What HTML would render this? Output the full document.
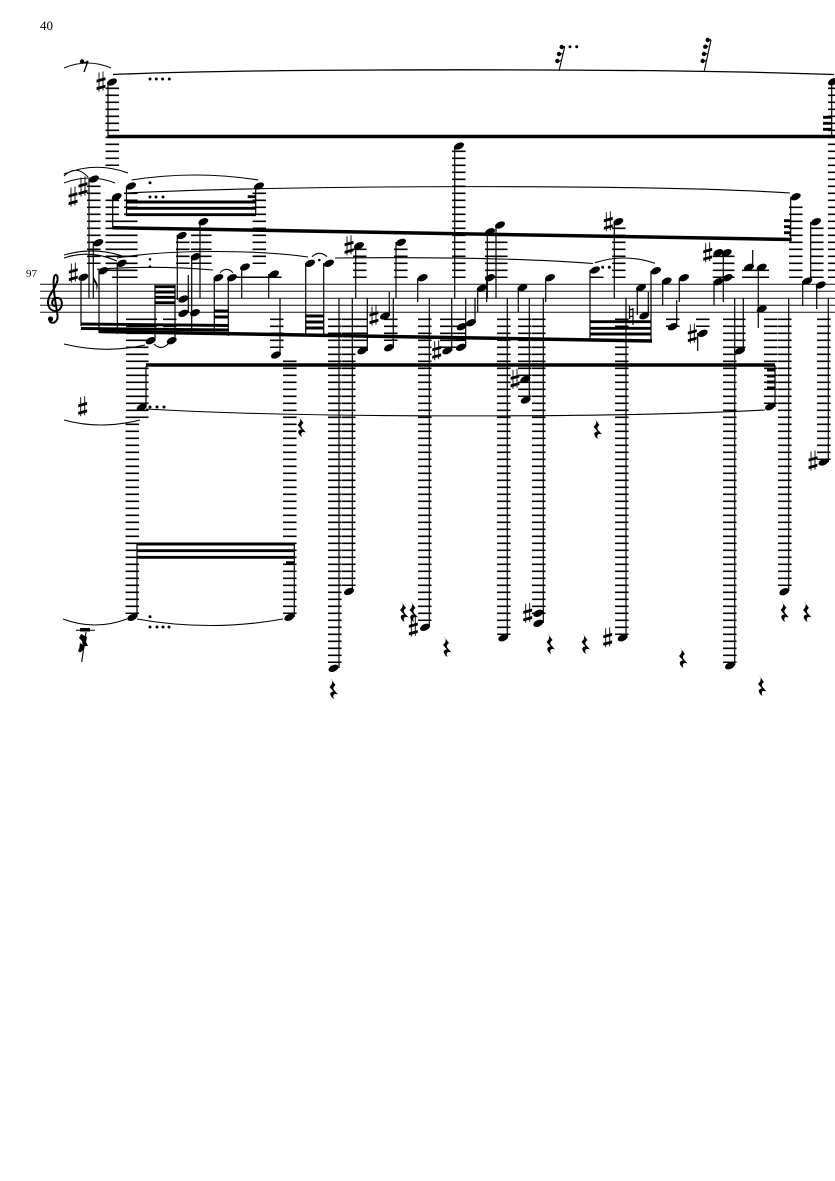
<!DOCTYPE html>
<html><head><meta charset="utf-8"><title>Score page 40</title>
<style>
html,body{margin:0;padding:0;background:#fff}
svg{display:block}
.t{font-family:"Liberation Serif",serif;fill:#000}
.st{stroke:#000;stroke-width:1.2;fill:none}
.ld{stroke:#000;stroke-width:13.5;stroke-dasharray:1.6 5.4;fill:none}
.sl{stroke:#000;stroke-width:1.1;fill:none}
.b{stroke:#000;fill:none}
.s{fill:#000;stroke:#000;stroke-width:.9}
.n ellipse{rx:5.3px;ry:3.2px;transform-box:fill-box;transform-origin:center;transform:rotate(-25deg)}
</style></head><body>
<svg width="835" height="1181" viewBox="0 0 835 1181" xmlns="http://www.w3.org/2000/svg">
<text class="t" x="40" y="30" font-size="13">40</text>
<text class="t" x="26" y="277" font-size="11">97</text>

<path d="M40 284.300H835M40 291.300H835M40 298.300H835M40 305.300H835M40 312.300H835" stroke="#111" stroke-width="1" fill="none"/>
<path d="M55 306C51 306 51 299 56 298C62 297 63.500 304 60 309C56 313 48.500 311 48 303C47.500 295 56 289 57.500 280C58 276 56 273 54.500 276C52 282 55 300 57.500 315C58.500 322 52 325 49.500 321" fill="none" stroke="#000" stroke-width="2"/>
<circle cx="50.500" cy="319" r="2.600"/>

<path class="ld" d="M112.300 87.500V166M112.300 199.500V271M118.800 220.500V278M130.800 192.500V278
M93.800 185.500V264M259.300 192.500V264M182.800 241.500V264M197.800 227.500V264M204.800 227.500V264
M239.800 276.500V278M252.800 276.500V278M265.800 276.500V278M274.800 276.500V278
M132.800 318.500V418M141.800 318.500V418M150.300 318.500V334M169.800 318.500V334M132.300 416.500V614
M276.800 318.500V348M289.800 360.500V614M334.800 318.500V663M348.800 318.500V586M360.300 318.500V348
M359.800 248.500V278M400.800 248.500V278M390.800 318.500V341M424.800 318.500V621
M446.800 318.500V348M458.800 318.500V348M458.800 150.500V278M491.800 234.500V278M500.800 234.500V278
M503.800 318.500V635M524.800 318.500V397M538.800 318.500V614M618.800 227.500V278M621.800 318.500V635
M672.800 318.500V327M702.800 318.500V327M719.500 255.500V278M727.800 255.500V278
M729.800 318.500V663M738.800 318.500V348M748.800 269.500V278M762.300 269.500V278M770.800 318.500V404
M784.800 318.500V586M795.800 206.500V278M816.800 227.500V278M823.800 318.500V460M834.800 87.500V278M596.800 276.500V278"/>

<path class="st" d="M108 82V137M89 179V298M93.300 243V298M112.700 197V228M126.500 186V215M255.700 186V215
M81 277V326M99 270V333M117.300 263V334M155 285V341M175 285V341M177.300 235V300M188.300 275V313M191.700 257V333M200 222V298
M214.300 278V335M228.300 278V336M241.700 267V298M268.700 274V298M280 298V355M305.700 263V336M323.700 263V336
M146 366V407M137 544V617M294.300 544V617M790.700 197V240M339 298V668M352.300 298V591M355.700 246V298M367.300 298V351
M389.300 292V316M393.300 298V348M396 242V298M417.700 278V302M429.300 298V627M451.700 298V351M454.700 146V298M465.700 298V347
M475 298V322M477.700 288V312M486.700 278V302M487.300 232V298M496 225V298M507.300 298V637M518.300 288V312M529.300 298V400M543.300 298V623M545.700 278V302
M590 270V340M614.300 222V298M626 298V637M637.300 288V315M648.300 292V315M651 271V341M662.700 281V305M676.700 300V327M679.300 278V302M697.700 333V351
M714 281V305M723.300 252V302M734.700 298V665M743.300 298V351M752.700 250V267M758.300 267V328M775 365V407M788.700 298V591M802.700 281V306M810.700 222V281M816.700 285V309M828.300 298V462M831.700 82V137"/>
<path d="M93.300 275c1 6 7 8 3 16c1-7-2-9-3-10z"/>

<g class="b">
<path stroke-width="3.500" d="M108 136.500H835M146 365H775M112.500 227.700L791.700 239.500M99 331.500L652 341"/>
<path stroke-width="2.900" d="M81 324L228 325.500M81 328.500L228 330M126 202H256M126 208.300H256M126 214.700H256M247.700 196.700H255.700M137 544H294.500M137 550.700H294.500M137 557.300H294.500M286 562.700H294.500
M155 286.700H175M155 292H175M155 297.300H175M155 302.700H175M214.300 311H228.300M214.300 317H228.300M305.700 316H323.700M305.700 322H323.700M305.700 328H323.700
M590 321.700H651M590 328.300H651M590 334H651M784 220.700H791M784 226.700H791M784 232.700H791M767 370H775M767 376H775M767 382H775M767 388H775
M823 117.300H832M823 123.300H832M823 129.300H832"/>
</g>

<g class="n">
<ellipse cx="112" cy="82"/><ellipse cx="94" cy="179"/><ellipse cx="116.700" cy="196.700"/><ellipse cx="131" cy="186"/><ellipse cx="259" cy="186"/><ellipse cx="203.300" cy="221.700"/><ellipse cx="181.700" cy="235.500"/><ellipse cx="98.300" cy="242.700"/>
<ellipse cx="83.300" cy="277.300"/><ellipse cx="103.300" cy="270.700"/><ellipse cx="121.700" cy="263.300"/><ellipse cx="195.700" cy="256.700"/><ellipse cx="183.300" cy="299"/><ellipse cx="183.300" cy="313.300"/><ellipse cx="195" cy="312.700"/><ellipse cx="218.300" cy="277.700"/>
<ellipse cx="232" cy="277.700"/><ellipse cx="245" cy="267"/><ellipse cx="274" cy="274"/><ellipse cx="150.700" cy="340.700"/><ellipse cx="171.700" cy="340.700"/><ellipse cx="276" cy="355"/><ellipse cx="141.700" cy="407.300"/><ellipse cx="132.300" cy="617.300"/>
<ellipse cx="289.300" cy="617.300"/><ellipse cx="310" cy="263.300"/><ellipse cx="329" cy="263.300"/><ellipse cx="359" cy="245.700"/><ellipse cx="401" cy="242.300"/><ellipse cx="422.700" cy="277.700"/><ellipse cx="385" cy="316"/><ellipse cx="389" cy="347.700"/>
<ellipse cx="362.300" cy="350.700"/><ellipse cx="333.500" cy="668.300"/><ellipse cx="349" cy="591.500"/><ellipse cx="425" cy="627.300"/><ellipse cx="447.300" cy="350.700"/><ellipse cx="461" cy="347.300"/><ellipse cx="461.700" cy="326.700"/><ellipse cx="471" cy="322.700"/>
<ellipse cx="481.700" cy="288.300"/><ellipse cx="490" cy="277.700"/><ellipse cx="490" cy="231.700"/><ellipse cx="500" cy="225"/><ellipse cx="459" cy="146"/><ellipse cx="522.300" cy="287.700"/><ellipse cx="550" cy="277.700"/><ellipse cx="503.300" cy="637.700"/>
<ellipse cx="525.300" cy="379.300"/><ellipse cx="525.700" cy="400"/><ellipse cx="538.300" cy="613.300"/><ellipse cx="538.300" cy="623.300"/><ellipse cx="618.300" cy="221.700"/><ellipse cx="622.700" cy="637.700"/><ellipse cx="595" cy="270"/><ellipse cx="656" cy="270.700"/>
<ellipse cx="641" cy="287.700"/><ellipse cx="644.300" cy="315.700"/><ellipse cx="666.700" cy="281"/><ellipse cx="684" cy="277.700"/><ellipse cx="672.700" cy="326.700"/><ellipse cx="702.700" cy="333.300"/><ellipse cx="718.300" cy="252.700"/><ellipse cx="726.700" cy="252.700"/>
<ellipse cx="718.300" cy="281.700"/><ellipse cx="727.700" cy="277.700"/><ellipse cx="749" cy="267.300"/><ellipse cx="761.700" cy="267.300"/><ellipse cx="761.700" cy="309"/><ellipse cx="730" cy="665.700"/><ellipse cx="740" cy="350.700"/><ellipse cx="770" cy="406.700"/>
<ellipse cx="784.300" cy="591.700"/><ellipse cx="795.700" cy="196.700"/><ellipse cx="816" cy="221.700"/><ellipse cx="807.300" cy="281"/><ellipse cx="820.700" cy="285"/><ellipse cx="823.500" cy="462"/><ellipse cx="833" cy="81.700"/>
</g>

<g class="s">
<path d="M101 82m-2-9.500v19m4-20v19m-6-10.500l8-2.200v2l-8 2.200zm0 7.500l8-2.200v2l-8 2.200z"/>
<path d="M73 197m-2-9.500v19m4-20v19m-6-10.500l8-2.200v2l-8 2.200zm0 7.500l8-2.200v2l-8 2.200z"/>
<path d="M83 187m-2-9.500v19m4-20v19m-6-10.500l8-2.200v2l-8 2.200zm0 7.500l8-2.200v2l-8 2.200z"/>
<path d="M73.300 273m-2-9.500v19m4-20v19m-6-10.500l8-2.200v2l-8 2.200zm0 7.500l8-2.200v2l-8 2.200z"/>
<path d="M82.700 406.700m-2-9.500v19m4-20v19m-6-10.500l8-2.200v2l-8 2.200zm0 7.500l8-2.200v2l-8 2.200z"/>
<path d="M349 245.700m-2-9.500v19m4-20v19m-6-10.500l8-2.200v2l-8 2.200zm0 7.500l8-2.200v2l-8 2.200z"/>
<path d="M374 316m-2-9.500v19m4-20v19m-6-10.500l8-2.200v2l-8 2.200zm0 7.500l8-2.200v2l-8 2.200z"/>
<path d="M413.300 627.300m-2-9.500v19m4-20v19m-6-10.500l8-2.200v2l-8 2.200zm0 7.500l8-2.200v2l-8 2.200z"/>
<path d="M436.700 350.700m-2-9.500v19m4-20v19m-6-10.500l8-2.200v2l-8 2.200zm0 7.500l8-2.200v2l-8 2.200z"/>
<path d="M515 379.300m-2-9.500v19m4-20v19m-6-10.500l8-2.200v2l-8 2.200zm0 7.500l8-2.200v2l-8 2.200z"/>
<path d="M527.700 613.300m-2-9.500v19m4-20v19m-6-10.500l8-2.200v2l-8 2.200zm0 7.500l8-2.200v2l-8 2.200z"/>
<path d="M608.300 221.700m-2-9.500v19m4-20v19m-6-10.500l8-2.200v2l-8 2.200zm0 7.500l8-2.200v2l-8 2.200z"/>
<path d="M607.700 637.700m-2-9.500v19m4-20v19m-6-10.500l8-2.200v2l-8 2.200zm0 7.500l8-2.200v2l-8 2.200z"/>
<path d="M692.300 334m-2-9.500v19m4-20v19m-6-10.500l8-2.200v2l-8 2.200zm0 7.500l8-2.200v2l-8 2.200z"/>
<path d="M707.700 252.700m-2-9.500v19m4-20v19m-6-10.500l8-2.200v2l-8 2.200zm0 7.500l8-2.200v2l-8 2.200z"/>
<path d="M813 461m-2-9.500v19m4-20v19m-6-10.500l8-2.200v2l-8 2.200zm0 7.500l8-2.200v2l-8 2.200z"/>
</g>
<path d="M629.500 306v13M633 308v17M629.500 310l3.500-1M629.500 317l3.500-1" stroke="#000" stroke-width="1.200" fill="none"/>

<path fill="#000" d="M299 417l4.500 6c-2.500 2-3 3.500-.5 6l3 3.500c-3.500-1.200-6-.3-4 4.500c-3.500-2-6-7-.5-7.500l-4-4.500c2.500-2.500 3.500-4.500 2-8z
M595 419l4.500 6c-2.500 2-3 3.500-.5 6l3 3.500c-3.500-1.200-6-.3-4 4.500c-3.500-2-6-7-.5-7.500l-4-4.500c2.500-2.500 3.500-4.500 2-8z
M331 679l4.500 6c-2.500 2-3 3.500-.5 6l3 3.500c-3.500-1.200-6-.3-4 4.500c-3.500-2-6-7-.5-7.500l-4-4.500c2.500-2.500 3.500-4.500 2-8z
M401.500 602l4.500 6c-2.500 2-3 3.500-.5 6l3 3.500c-3.500-1.200-6-.3-4 4.500c-3.500-2-6-7-.5-7.500l-4-4.500c2.500-2.500 3.500-4.500 2-8z
M411 602l4.500 6c-2.500 2-3 3.500-.5 6l3 3.500c-3.500-1.200-6-.3-4 4.500c-3.500-2-6-7-.5-7.500l-4-4.500c2.500-2.500 3.500-4.500 2-8z
M444.500 637l4.500 6c-2.500 2-3 3.500-.5 6l3 3.500c-3.500-1.200-6-.3-4 4.500c-3.500-2-6-7-.5-7.500l-4-4.500c2.500-2.500 3.500-4.500 2-8z
M548 634l4.500 6c-2.500 2-3 3.500-.5 6l3 3.500c-3.500-1.200-6-.3-4 4.500c-3.500-2-6-7-.5-7.500l-4-4.500c2.500-2.500 3.500-4.500 2-8z
M583 634l4.500 6c-2.500 2-3 3.500-.5 6l3 3.500c-3.500-1.200-6-.3-4 4.500c-3.500-2-6-7-.5-7.500l-4-4.500c2.500-2.500 3.500-4.500 2-8z
M680.500 648l4.500 6c-2.500 2-3 3.500-.5 6l3 3.500c-3.500-1.200-6-.3-4 4.500c-3.500-2-6-7-.5-7.500l-4-4.500c2.500-2.500 3.500-4.500 2-8z
M759.500 676l4.500 6c-2.500 2-3 3.500-.5 6l3 3.500c-3.500-1.200-6-.3-4 4.500c-3.500-2-6-7-.5-7.500l-4-4.500c2.500-2.500 3.500-4.500 2-8z
M782 602l4.500 6c-2.500 2-3 3.500-.5 6l3 3.500c-3.500-1.200-6-.3-4 4.500c-3.500-2-6-7-.5-7.500l-4-4.500c2.500-2.500 3.500-4.500 2-8z
M804.500 602l4.500 6c-2.500 2-3 3.500-.5 6l3 3.500c-3.500-1.200-6-.3-4 4.500c-3.500-2-6-7-.5-7.500l-4-4.500c2.500-2.500 3.500-4.500 2-8z"/>

<g class="sl">
<path stroke-width="1.300" d="M113 74.500C250 68.500 650 68 834 74.500"/>
<path d="M64 68Q87.500 58 111 68M64 174Q96 161 128 173M64 176Q76 164 88 177M64 183Q90 173 115 183M131.700 180Q195 170 258.300 180"/>
<path d="M126 193C300 185 650 184 790 193M64 258Q90 249 117 261M64 255Q95 246 125 257M117 258C170 249 260 250 308 257M97 269.300Q155 265 213 270"/>
<path d="M220 272.700Q226.500 266 233 272.700M312 256.700Q319.500 250 327 256.700M335 258C430 257 520 258 593 263.500M595 262.700Q625 253 655 263.300"/>
<path d="M64 344Q105 354 145 345M154 344Q161 351 168 344M146 409C300 418 620 418 765 410M64 420Q100 430 140 420M63 619Q95 631 127 619M137 619Q210 632 283 619"/>
</g>

<path fill="#000" d="M148.500 79a1.500 1.500 0 1 0 3 0a1.500 1.500 0 1 0-3 0M154.800 79a1.500 1.500 0 1 0 3 0a1.500 1.500 0 1 0-3 0M161.100 79a1.500 1.500 0 1 0 3 0a1.500 1.500 0 1 0-3 0M167.800 79a1.500 1.500 0 1 0 3 0a1.500 1.500 0 1 0-3 0
M148.500 182.700a1.500 1.500 0 1 0 3 0a1.500 1.500 0 1 0-3 0M148.500 197a1.500 1.500 0 1 0 3 0a1.500 1.500 0 1 0-3 0M154.500 197a1.500 1.500 0 1 0 3 0a1.500 1.500 0 1 0-3 0M161.500 197a1.500 1.500 0 1 0 3 0a1.500 1.500 0 1 0-3 0
M148.700 259.300a1.300 1.300 0 1 0 2.600 0a1.300 1.300 0 1 0-2.600 0M148.700 266.700a1.300 1.300 0 1 0 2.600 0a1.300 1.300 0 1 0-2.600 0M318 260a1.300 1.300 0 1 0 2.600 0a1.300 1.300 0 1 0-2.600 0
M601.200 267.300a1.500 1.500 0 1 0 3 0a1.500 1.500 0 1 0-3 0M607.800 267.300a1.500 1.500 0 1 0 3 0a1.500 1.500 0 1 0-3 0
M148.500 407a1.500 1.500 0 1 0 3 0a1.500 1.500 0 1 0-3 0M155.500 407a1.500 1.500 0 1 0 3 0a1.500 1.500 0 1 0-3 0M162.500 407a1.500 1.500 0 1 0 3 0a1.500 1.500 0 1 0-3 0
M148.500 616.700a1.500 1.500 0 1 0 3 0a1.500 1.500 0 1 0-3 0M148.500 627a1.500 1.500 0 1 0 3 0a1.500 1.500 0 1 0-3 0M155.500 627a1.500 1.500 0 1 0 3 0a1.500 1.500 0 1 0-3 0M161.500 627a1.500 1.500 0 1 0 3 0a1.500 1.500 0 1 0-3 0M167.500 627a1.500 1.500 0 1 0 3 0a1.500 1.500 0 1 0-3 0
M568.500 46.700a1.500 1.500 0 1 0 3 0a1.500 1.500 0 1 0-3 0M575.200 46.700a1.500 1.500 0 1 0 3 0a1.500 1.500 0 1 0-3 0"/>

<path d="M559 70.700L564.700 46.700M704.300 70.700L711 40" stroke="#000" stroke-width="1.100" fill="none"/>
<path d="M557.300 61q2 1 3.300-1M559 54q2 1 3.300-1M561.700 47q2 1 3-1M702.700 61q2 1 3-1M704 54q2 1 3-1M705.300 46.700q2 1 3-1M707.700 40q2 1 3-1" stroke="#000" stroke-width="1" fill="none"/>
<circle cx="557.300" cy="61" r="2.200"/><circle cx="559" cy="54" r="2.200"/><circle cx="561.700" cy="47" r="2.200"/>
<circle cx="702.700" cy="61" r="2.200"/><circle cx="704" cy="54" r="2.200"/><circle cx="705.300" cy="46.700" r="2.200"/><circle cx="707.700" cy="40" r="2.200"/>

<circle cx="82" cy="61.500" r="2.200"/>
<path d="M84 62.500Q86 63 88 61L84 72" stroke="#000" stroke-width="1.300" fill="none"/>

<path d="M76 630.300H95" stroke="#000" fill="none"/>
<path d="M80 628h10v3.500h-10z"/>
<path d="M86 632L81.700 662" stroke="#000" stroke-width="1.100" fill="none"/>
<path d="M81 634l6 3-1 5 2 4-5 0-1-5-3-3zM80 643l5 3-2 5-4-1z"/>
<circle cx="80" cy="650.500" r="1.800"/>
</svg>
</body></html>
